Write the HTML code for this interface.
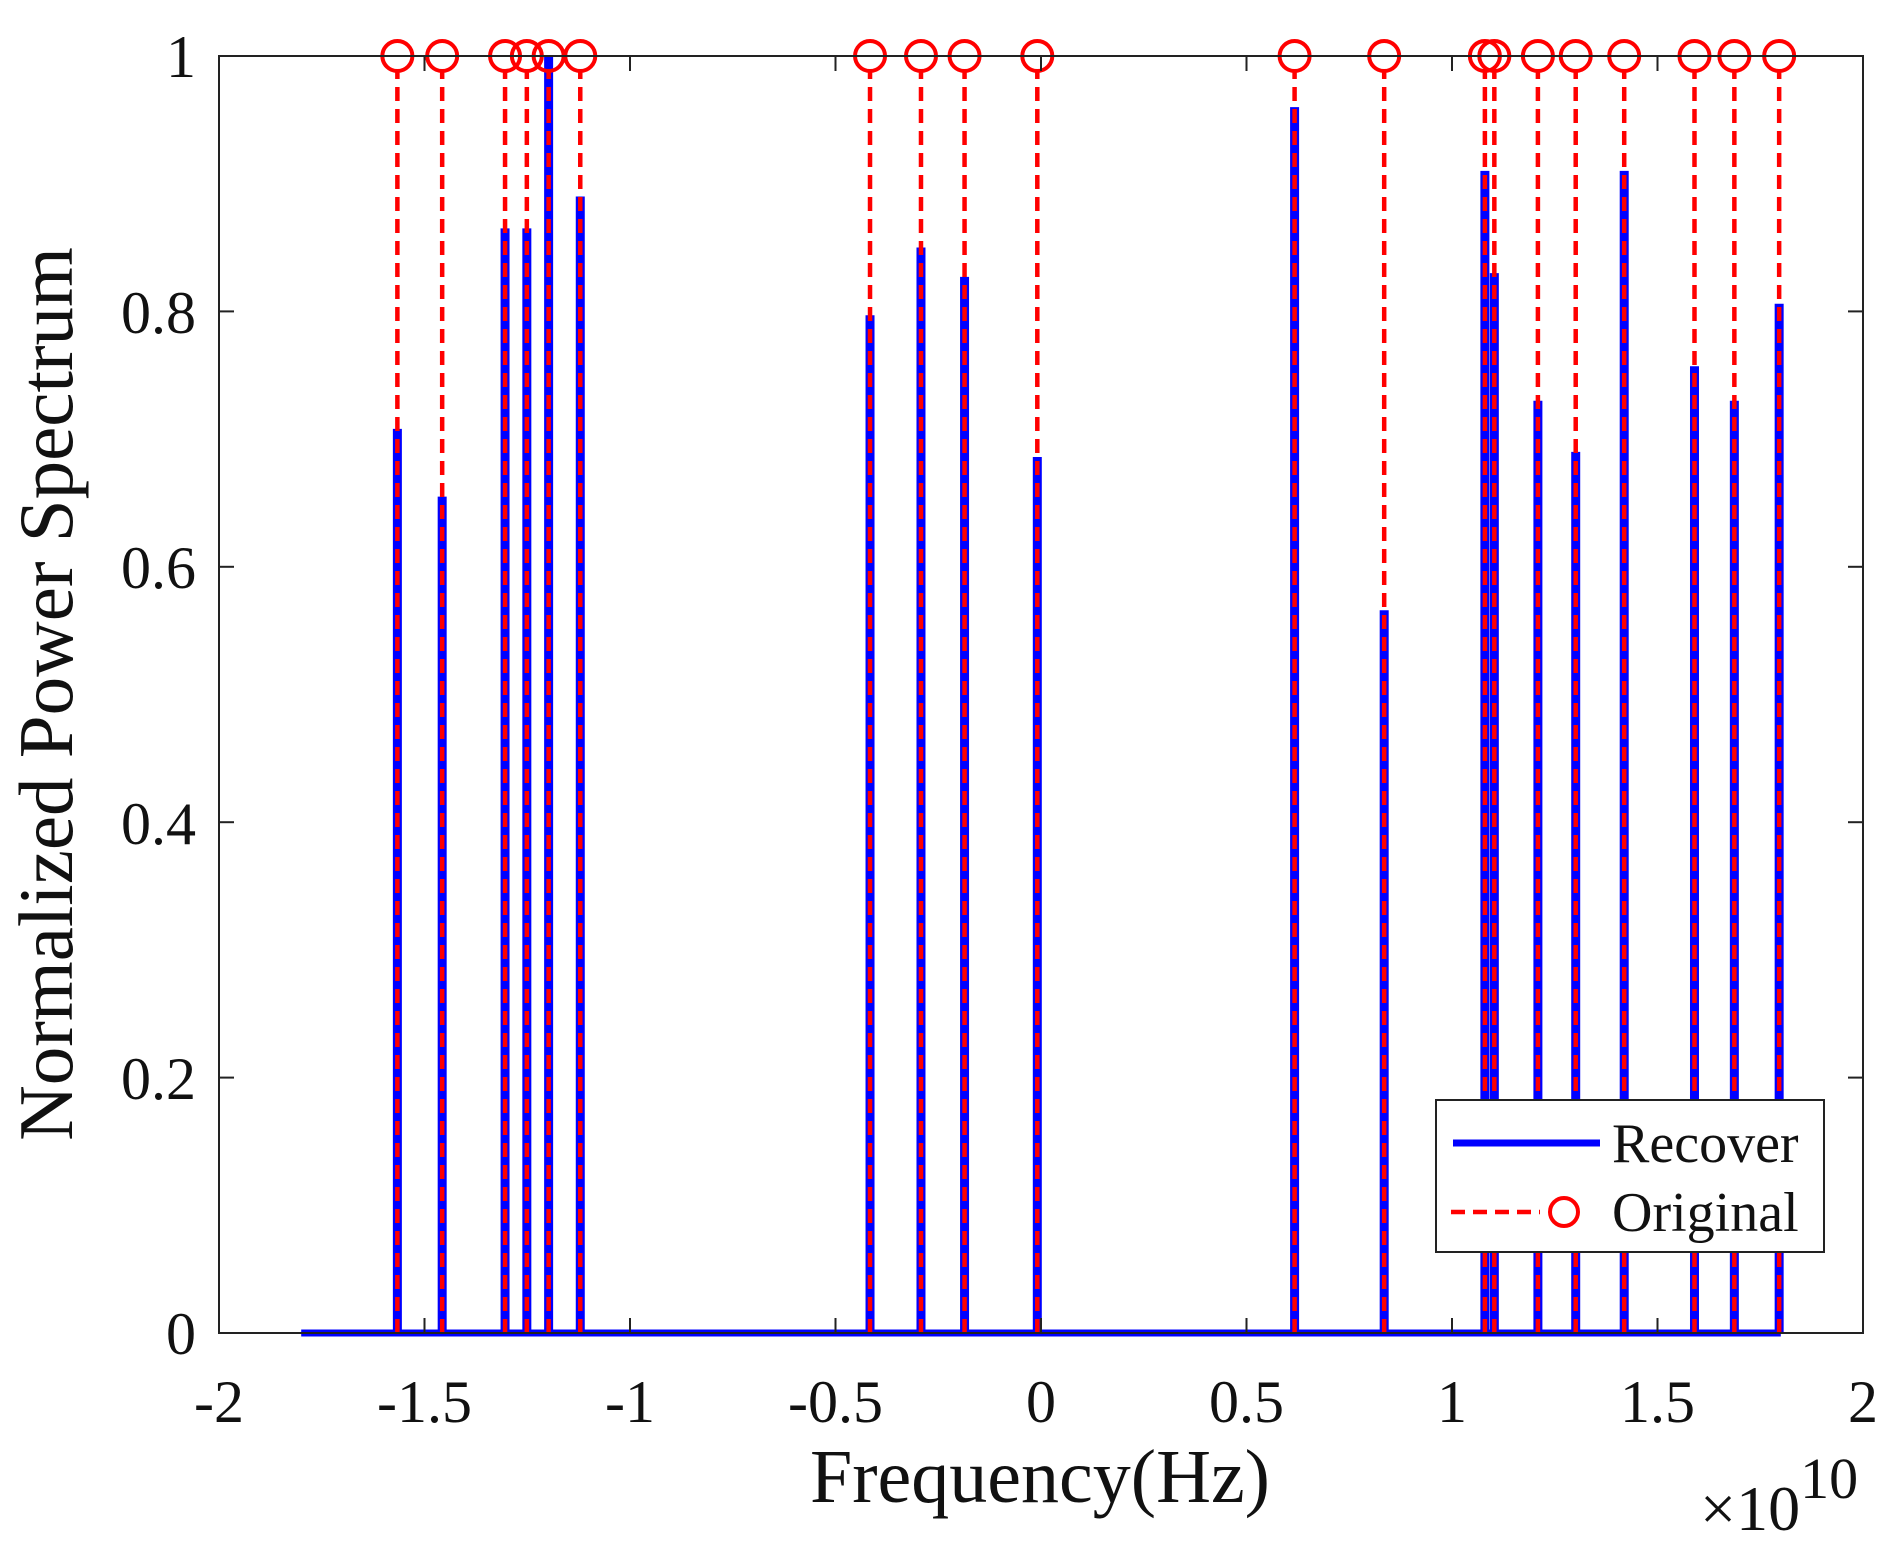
<!DOCTYPE html>
<html><head><meta charset="utf-8"><style>
html,body{margin:0;padding:0;background:#fff;}
svg{display:block;font-family:"Liberation Serif",serif;}
</style></head><body>
<svg id="s" width="1902" height="1545" viewBox="0 0 1902 1545" xmlns="http://www.w3.org/2000/svg">
<rect x="0" y="0" width="1902" height="1545" fill="#fff"/>
<g id="data"></g>
<rect x="219" y="56" width="1644" height="1277" fill="none" stroke="#222" stroke-width="2"/>
<g stroke="#222" stroke-width="2">
<line x1="219" y1="1333" x2="219" y2="1318"/><line x1="630" y1="1333" x2="630" y2="1318"/><line x1="1041" y1="1333" x2="1041" y2="1318"/><line x1="1452" y1="1333" x2="1452" y2="1318"/><line x1="1863" y1="1333" x2="1863" y2="1318"/>
<line x1="424.5" y1="1333" x2="424.5" y2="1318"/><line x1="835.5" y1="1333" x2="835.5" y2="1318"/><line x1="1246.5" y1="1333" x2="1246.5" y2="1318"/><line x1="1657.5" y1="1333" x2="1657.5" y2="1318"/>
<line x1="424.5" y1="56" x2="424.5" y2="71"/><line x1="630" y1="56" x2="630" y2="71"/><line x1="835.5" y1="56" x2="835.5" y2="71"/><line x1="1041" y1="56" x2="1041" y2="71"/><line x1="1246.5" y1="56" x2="1246.5" y2="71"/><line x1="1452" y1="56" x2="1452" y2="71"/><line x1="1657.5" y1="56" x2="1657.5" y2="71"/>
<line x1="219" y1="1077.6" x2="234" y2="1077.6"/><line x1="219" y1="822.2" x2="234" y2="822.2"/><line x1="219" y1="566.8" x2="234" y2="566.8"/><line x1="219" y1="311.4" x2="234" y2="311.4"/>
<line x1="1863" y1="1077.6" x2="1848" y2="1077.6"/><line x1="1863" y1="822.2" x2="1848" y2="822.2"/><line x1="1863" y1="566.8" x2="1848" y2="566.8"/><line x1="1863" y1="311.4" x2="1848" y2="311.4"/>
</g>
<g font-size="60" fill="#111" text-anchor="middle">
<text x="219" y="1422">-2</text><text x="424.5" y="1422">-1.5</text><text x="630" y="1422">-1</text><text x="835.5" y="1422">-0.5</text><text x="1041" y="1422">0</text><text x="1246.5" y="1422">0.5</text><text x="1452" y="1422">1</text><text x="1657.5" y="1422">1.5</text><text x="1863" y="1422">2</text>
</g>
<g font-size="60" fill="#111" text-anchor="end">
<text x="196" y="1354">0</text><text x="196" y="1099">0.2</text><text x="196" y="844">0.4</text><text x="196" y="588">0.6</text><text x="196" y="333">0.8</text><text x="196" y="77">1</text>
</g>
<text x="1040" y="1502" font-size="76" text-anchor="middle" fill="#111">Frequency(Hz)</text>
<text transform="translate(72,694) rotate(-90)" font-size="77" text-anchor="middle" fill="#111">Normalized Power Spectrum</text>
<text x="1700" y="1530" font-size="64" fill="#111">×10<tspan font-size="58" dy="-32">10</tspan></text>
<g>
<rect x="1436" y="1100" width="388" height="152" fill="#fff" stroke="#222" stroke-width="2"/>
<line x1="1453" y1="1143" x2="1600" y2="1143" stroke="#00f" stroke-width="7"/>
<text x="1612" y="1162" font-size="56" fill="#111">Recover</text>
<line x1="1451" y1="1212" x2="1540" y2="1212" stroke="#f00" stroke-width="4.5" stroke-dasharray="14,8"/>
<circle cx="1564" cy="1212" r="14" fill="none" stroke="#f00" stroke-width="4"/>
<text x="1612" y="1231" font-size="56" fill="#111">Original</text>
</g>
</svg>
<script>
var xs=[-1.566,-1.457,-1.304,-1.251,-1.198,-1.121,-0.416,-0.292,-0.186,-0.009,0.617,0.835,1.08,1.103,1.209,1.301,1.419,1.59,1.687,1.796];
var hs=[0.708,0.655,0.865,0.865,1.0,0.89,0.797,0.85,0.827,0.686,0.96,0.566,0.91,0.83,0.73,0.69,0.91,0.757,0.73,0.806];
function X(v){return 219+(v+2)*411;}function Y(h){return 1333-h*1277;}
var s='<line x1="'+X(-1.8)+'" y1="1333" x2="'+X(1.8)+'" y2="1333" stroke="#00f" stroke-width="7"/>';
for(var i=0;i<xs.length;i++){var x=X(xs[i]);
s+='<line x1="'+x+'" y1="1333" x2="'+x+'" y2="'+Y(hs[i])+'" stroke="#00f" stroke-width="9"/>';}
for(var i=0;i<xs.length;i++){var x=X(xs[i]);
s+='<line x1="'+x+'" y1="1333" x2="'+x+'" y2="70" stroke="#f00" stroke-width="4.5" stroke-dasharray="14,8"/>';
s+='<circle cx="'+x+'" cy="56" r="15" fill="none" stroke="#f00" stroke-width="4"/>';}
document.getElementById('data').innerHTML=s;
</script>
</body></html>
